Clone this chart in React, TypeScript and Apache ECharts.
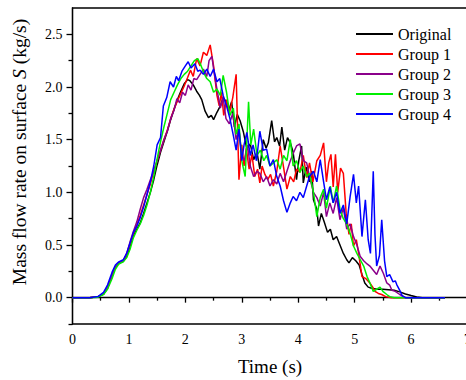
import React, { useEffect, useRef } from "react";
import * as echarts from "echarts";

const seriesNames = ["Original", "Group 1", "Group 2", "Group 3", "Group 4"];
const seriesColors = ["#000000", "#ff0000", "#8b008b", "#00ee00", "#0000ff"];

const xTicks = [0, 1, 2, 3, 4, 5, 6, 7];
const yMajorTicks = [0, 0.5, 1.0, 1.5, 2.0, 2.5];
const yMinorTicks = [-0.25, 0.25, 0.75, 1.25, 1.75, 2.25];

const originalData = [
  [0, 0], [0.3, 0], [0.45, 0.008], [0.55, 0.035], [0.62, 0.09], [0.7, 0.21], [0.76, 0.29], [0.82, 0.325],
  [0.9, 0.345], [0.96, 0.39], [1.02, 0.49], [1.08, 0.59], [1.14, 0.65], [1.2, 0.71], [1.26, 0.8], [1.32, 0.9],
  [1.38, 1.0], [1.44, 1.12], [1.5, 1.26], [1.56, 1.38], [1.62, 1.48], [1.68, 1.58], [1.74, 1.69], [1.8, 1.79],
  [1.86, 1.88], [1.92, 1.96], [1.98, 2.03], [2.04, 2.07], [2.08, 2.06], [2.14, 2.02], [2.2, 1.96], [2.25, 1.92],
  [2.29, 1.88], [2.35, 1.77], [2.41, 1.71], [2.46, 1.73], [2.5, 1.69], [2.56, 1.76], [2.62, 1.82], [2.67, 1.9],
  [2.72, 1.86], [2.77, 1.78], [2.82, 1.86], [2.87, 1.62], [2.92, 1.74], [2.97, 1.68], [3.03, 1.57], [3.09, 1.41],
  [3.15, 1.46], [3.21, 1.31], [3.27, 1.38], [3.32, 1.22], [3.38, 1.5], [3.43, 1.42], [3.47, 1.47], [3.53, 1.68],
  [3.58, 1.48], [3.62, 1.52], [3.67, 1.44], [3.71, 1.62], [3.76, 1.4], [3.81, 1.52], [3.86, 1.47], [3.91, 1.38],
  [3.97, 1.12], [4.01, 1.3], [4.06, 1.44], [4.09, 1.09], [4.14, 1.24], [4.2, 1.1], [4.24, 1.2], [4.27, 0.93],
  [4.33, 0.84], [4.36, 0.68], [4.41, 0.8], [4.46, 0.72], [4.52, 0.62], [4.57, 0.65], [4.62, 0.55], [4.68, 0.58],
  [4.74, 0.5], [4.8, 0.42], [4.86, 0.36], [4.9, 0.33], [4.96, 0.38], [5.02, 0.35], [5.08, 0.31], [5.13, 0.22],
  [5.18, 0.14], [5.24, 0.1], [5.3, 0.09], [5.4, 0.08], [5.5, 0.08], [5.6, 0.075], [5.7, 0.07], [5.8, 0.055],
  [5.9, 0.035], [6.0, 0.02], [6.1, 0.006], [6.2, 0], [6.6, 0],
];

const group1Data = [
  [0, 0], [0.3, 0], [0.45, 0.008], [0.55, 0.035], [0.62, 0.09], [0.7, 0.21], [0.76, 0.29], [0.82, 0.325],
  [0.9, 0.35], [0.96, 0.41], [1.02, 0.51], [1.08, 0.61], [1.14, 0.69], [1.2, 0.78], [1.26, 0.88], [1.32, 0.98],
  [1.38, 1.08], [1.44, 1.2], [1.5, 1.3], [1.56, 1.4], [1.62, 1.5], [1.68, 1.59], [1.74, 1.7], [1.8, 1.79],
  [1.86, 1.87], [1.92, 1.94], [1.98, 2.01], [2.04, 2.09], [2.09, 2.16], [2.14, 2.1], [2.2, 2.27], [2.26, 2.2],
  [2.32, 2.33], [2.38, 2.3], [2.44, 2.4], [2.5, 2.2], [2.56, 1.92], [2.6, 1.82], [2.64, 1.95], [2.68, 1.73],
  [2.73, 1.88], [2.78, 1.75], [2.84, 1.9], [2.9, 2.12], [2.95, 1.12], [3.0, 1.45], [3.04, 1.25], [3.08, 1.42],
  [3.13, 1.22], [3.18, 1.36], [3.23, 1.15], [3.28, 1.22], [3.32, 1.09], [3.36, 1.25], [3.41, 1.17], [3.46, 1.12],
  [3.51, 1.17], [3.56, 1.06], [3.62, 1.2], [3.68, 1.44], [3.74, 1.24], [3.8, 1.03], [3.86, 1.15], [3.92, 1.1],
  [3.97, 1.22], [4.03, 1.19], [4.09, 1.35], [4.15, 1.14], [4.2, 1.28], [4.26, 1.1], [4.33, 1.3], [4.39, 1.35],
  [4.45, 1.47], [4.5, 1.1], [4.54, 1.28], [4.58, 1.36], [4.62, 1.05], [4.66, 1.36], [4.7, 1.0], [4.75, 1.23],
  [4.8, 1.18], [4.85, 0.8], [4.9, 0.6], [4.94, 0.7], [4.98, 0.49], [5.03, 0.55], [5.07, 0.42], [5.13, 0.2],
  [5.2, 0.18], [5.27, 0.14], [5.32, 0.1], [5.36, 0.06], [5.42, 0.04], [5.48, 0.03], [5.55, 0.01], [5.65, 0],
  [6.6, 0],
];

const group2Data = [
  [0, 0], [0.3, 0], [0.45, 0.008], [0.55, 0.035], [0.62, 0.09], [0.7, 0.21], [0.76, 0.29], [0.82, 0.325],
  [0.9, 0.35], [0.96, 0.42], [1.02, 0.53], [1.08, 0.63], [1.14, 0.72], [1.2, 0.84], [1.26, 0.95], [1.32, 1.03],
  [1.38, 1.12], [1.44, 1.2], [1.5, 1.3], [1.56, 1.4], [1.62, 1.5], [1.68, 1.58], [1.74, 1.7], [1.8, 1.78],
  [1.85, 1.89], [1.9, 1.85], [1.95, 1.95], [2.0, 1.92], [2.05, 2.02], [2.1, 1.97], [2.15, 2.08], [2.2, 2.07],
  [2.26, 2.12], [2.32, 2.17], [2.38, 2.1], [2.42, 2.25], [2.47, 2.29], [2.52, 2.1], [2.57, 1.95], [2.62, 1.8],
  [2.67, 1.9], [2.72, 1.7], [2.78, 1.65], [2.84, 1.75], [2.9, 1.5], [2.95, 1.6], [3.0, 1.35], [3.05, 1.3],
  [3.1, 1.45], [3.15, 1.25], [3.21, 1.15], [3.27, 1.2], [3.32, 1.18], [3.38, 1.1], [3.44, 1.15], [3.5, 1.06],
  [3.56, 1.12], [3.62, 1.08], [3.68, 1.18], [3.74, 1.1], [3.8, 1.2], [3.86, 1.3], [3.92, 1.38], [3.97, 1.44],
  [4.03, 1.46], [4.09, 1.3], [4.15, 1.28], [4.2, 1.15], [4.27, 1.0], [4.33, 0.95], [4.39, 0.87], [4.45, 1.0],
  [4.5, 0.77], [4.56, 0.9], [4.62, 0.8], [4.68, 0.95], [4.74, 0.74], [4.8, 0.85], [4.86, 0.65], [4.92, 0.7],
  [4.98, 0.58], [5.04, 0.5], [5.1, 0.39], [5.16, 0.35], [5.22, 0.32], [5.27, 0.3], [5.33, 0.26], [5.39, 0.22],
  [5.45, 0.3], [5.51, 0.23], [5.57, 0.14], [5.62, 0.12], [5.66, 0.07], [5.72, 0.06], [5.8, 0.03], [5.9, 0],
  [6.6, 0],
];

const group3Data = [
  [0, 0], [0.3, 0], [0.45, 0.005], [0.55, 0.03], [0.62, 0.08], [0.7, 0.18], [0.76, 0.27], [0.82, 0.32],
  [0.9, 0.34], [0.96, 0.38], [1.02, 0.46], [1.08, 0.57], [1.14, 0.64], [1.2, 0.7], [1.26, 0.78], [1.32, 0.88],
  [1.38, 1.0], [1.44, 1.15], [1.5, 1.32], [1.56, 1.48], [1.62, 1.62], [1.68, 1.75], [1.74, 1.88], [1.8, 1.95],
  [1.86, 2.02], [1.92, 2.08], [1.98, 2.12], [2.04, 2.15], [2.1, 2.2], [2.16, 2.25], [2.22, 2.27], [2.28, 2.2],
  [2.34, 2.12], [2.38, 2.08], [2.44, 2.05], [2.5, 1.95], [2.56, 1.98], [2.62, 1.92], [2.67, 2.11], [2.73, 1.95],
  [2.79, 1.73], [2.85, 1.8], [2.9, 1.55], [2.95, 1.65], [3.0, 1.3], [3.06, 1.15], [3.09, 1.5], [3.12, 1.86],
  [3.16, 1.45], [3.21, 1.6], [3.27, 1.35], [3.33, 1.4], [3.39, 1.3], [3.44, 1.35], [3.5, 1.25], [3.56, 1.28],
  [3.62, 1.31], [3.68, 1.22], [3.74, 1.35], [3.8, 1.3], [3.86, 1.5], [3.91, 1.25], [3.97, 1.3], [4.03, 1.19],
  [4.09, 1.25], [4.15, 1.15], [4.2, 1.18], [4.27, 1.0], [4.33, 0.77], [4.39, 0.95], [4.45, 1.03], [4.5, 0.85],
  [4.57, 1.06], [4.62, 0.9], [4.68, 1.06], [4.74, 0.84], [4.8, 0.75], [4.86, 0.7], [4.92, 0.61], [4.98, 0.49],
  [5.04, 0.42], [5.1, 0.36], [5.16, 0.3], [5.22, 0.2], [5.27, 0.14], [5.33, 0.06], [5.39, 0.08], [5.45, 0.1],
  [5.5, 0.06], [5.57, 0.03], [5.62, 0.01], [5.7, 0], [6.6, 0],
];

const group4Data = [
  [0, 0], [0.3, 0], [0.45, 0.01], [0.55, 0.05], [0.62, 0.12], [0.7, 0.24], [0.76, 0.31], [0.82, 0.34],
  [0.9, 0.36], [0.96, 0.42], [1.02, 0.52], [1.08, 0.62], [1.14, 0.68], [1.2, 0.76], [1.26, 0.86], [1.32, 0.98],
  [1.38, 1.1], [1.44, 1.25], [1.5, 1.45], [1.56, 1.52], [1.61, 1.82], [1.67, 1.9], [1.73, 2.05], [1.79, 2.0],
  [1.84, 2.1], [1.88, 2.06], [1.94, 2.15], [2.0, 2.2], [2.05, 2.24], [2.1, 2.18], [2.17, 2.22], [2.22, 2.15],
  [2.26, 2.16], [2.32, 2.12], [2.38, 2.17], [2.44, 2.1], [2.5, 2.17], [2.56, 2.05], [2.61, 2.08], [2.67, 1.92],
  [2.73, 1.82], [2.79, 1.7], [2.85, 1.54], [2.9, 1.4], [2.95, 1.6], [3.0, 1.3], [3.04, 1.45], [3.09, 1.57],
  [3.15, 1.35], [3.2, 1.45], [3.26, 1.3], [3.32, 1.58], [3.38, 1.4], [3.44, 1.41], [3.5, 1.25], [3.56, 1.31],
  [3.62, 1.15], [3.68, 1.06], [3.74, 0.92], [3.8, 0.81], [3.86, 0.9], [3.91, 0.96], [3.97, 0.92], [4.03, 1.0],
  [4.09, 0.95], [4.15, 1.06], [4.2, 1.15], [4.27, 1.2], [4.33, 1.1], [4.39, 1.31], [4.45, 1.1], [4.5, 0.93],
  [4.56, 1.05], [4.62, 0.9], [4.68, 1.0], [4.74, 0.8], [4.8, 0.88], [4.86, 0.7], [4.92, 0.96], [4.98, 1.17],
  [5.03, 0.9], [5.07, 1.06], [5.13, 0.58], [5.19, 0.93], [5.24, 0.55], [5.28, 0.42], [5.33, 1.2], [5.36, 0.6],
  [5.39, 0.3], [5.44, 0.4], [5.48, 0.74], [5.53, 0.35], [5.57, 0.2], [5.62, 0.22], [5.68, 0.15], [5.72, 0.16],
  [5.75, 0.12], [5.8, 0.07], [5.84, 0.02], [5.9, 0], [6.6, 0],
];

const allData = [originalData, group1Data, group2Data, group3Data, group4Data];

const FONT = "Liberation Serif";

export default function App() {
  const ref = useRef<HTMLDivElement>(null);
  useEffect(() => {
    if (!ref.current) return;
    const chart = echarts.init(ref.current, null, { renderer: "svg" });
    const axisLineStyle = { color: "#000", width: 1.3 };
    chart.setOption({
      animation: false,
      backgroundColor: "#fff",
      grid: {
        left: 72.5,
        top: 8,
        width: 395,
        height: 316,
        show: true,
        borderColor: "#000",
        borderWidth: 1.3,
        containLabel: false,
        outerBoundsMode: "none",
      },
      legend: {
        orient: "vertical",
        left: 356,
        top: 26,
        padding: 0,
        icon: "rect",
        itemWidth: 37,
        itemHeight: 2,
        itemGap: 4,
        data: seriesNames,
        textStyle: { fontFamily: FONT, fontSize: 16, color: "#000", lineHeight: 16 },
      },
      xAxis: {
        type: "value",
        min: 0,
        max: 7,
        interval: 1,
        name: "Time (s)",
        nameLocation: "middle",
        nameGap: 33,
        nameTextStyle: { fontFamily: FONT, fontSize: 19, color: "#000" },
        axisLine: { show: true, lineStyle: axisLineStyle },
        axisTick: { show: true, inside: false, length: 5, lineStyle: axisLineStyle },
        minorTick: { show: true, splitNumber: 2, length: 3, lineStyle: axisLineStyle },
        splitLine: { show: false },
        axisLabel: {
          fontFamily: FONT,
          fontSize: 14,
          color: "#000",
          margin: 8,
          formatter: (v: number) => (xTicks.indexOf(v) >= 0 ? String(v) : ""),
        },
      },
      yAxis: [
        {
          type: "value",
          min: -0.25,
          max: 2.75,
          axisLine: { show: true, lineStyle: axisLineStyle },
          axisTick: { show: true, inside: false, length: 6, lineStyle: axisLineStyle, customValues: yMajorTicks },
          splitLine: { show: false },
          axisLabel: {
            fontFamily: FONT,
            fontSize: 14,
            color: "#000",
            margin: 10,
            customValues: yMajorTicks,
            formatter: (v: number) => v.toFixed(1),
          },
        },
        {
          type: "value",
          min: -0.25,
          max: 2.75,
          position: "left",
          axisLine: { show: false },
          axisTick: { show: true, inside: false, length: 4, lineStyle: axisLineStyle, customValues: yMinorTicks },
          splitLine: { show: false },
          axisLabel: { show: false },
        },
      ],
      graphic: [
        {
          type: "text",
          x: 19.5,
          y: 152,
          rotation: Math.PI / 2,
          style: {
            text: "Mass flow rate on surface {i|S} (kg/s)",
            fontFamily: FONT,
            fontSize: 19.5,
            fill: "#000",
            align: "center",
            verticalAlign: "middle",
            rich: {
              i: { fontFamily: FONT, fontSize: 19.5, fontStyle: "italic", fill: "#000" },
            },
          },
        },
      ],
      series: allData.map((d, i) => ({
        name: seriesNames[i],
        type: "line",
        data: d,
        symbol: "none",
        smooth: false,
        clip: true,
        lineStyle: { color: seriesColors[i], width: 1.5 },
        itemStyle: { color: seriesColors[i] },
        z: 2 + i,
      })),
    });
    return () => chart.dispose();
  }, []);
  return (
    <div
      ref={ref}
      style={{ position: "absolute", left: 0, top: 0, width: 466, height: 380 }}
    />
  );
}
